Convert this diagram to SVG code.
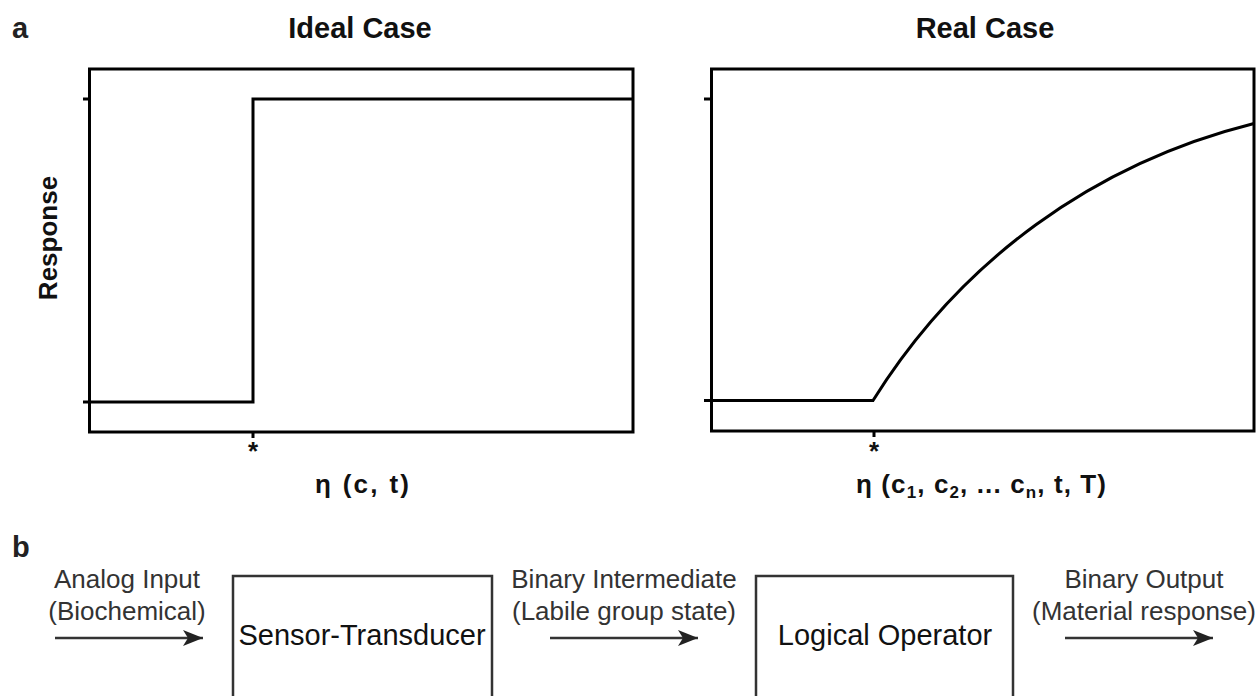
<svg xmlns="http://www.w3.org/2000/svg" width="1259" height="696" viewBox="0 0 1259 696">
<style>
.frame{fill:none;stroke:#000;stroke-width:3}
.trace{fill:none;stroke:#000;stroke-width:3;stroke-linejoin:miter}
.panel{font-family:"Liberation Sans",Arial,sans-serif;font-weight:bold;font-size:29px;fill:#222}
.title{font-family:"Liberation Sans",Arial,sans-serif;font-weight:bold;font-size:29px;fill:#111;text-anchor:middle}
.axis{font-family:"Liberation Sans",Arial,sans-serif;font-weight:bold;font-size:26px;fill:#111;text-anchor:middle}
.ylab{font-family:"Liberation Sans",Arial,sans-serif;font-weight:bold;font-size:26px;fill:#111;text-anchor:middle}
.star{font-family:"Liberation Sans",Arial,sans-serif;font-weight:bold;font-size:26px;fill:#111;text-anchor:middle}
.lbl{font-family:"Liberation Sans",Arial,sans-serif;font-size:26px;fill:#333;text-anchor:middle}
.boxtext{font-family:"Liberation Sans",Arial,sans-serif;font-size:29px;fill:#111;text-anchor:middle}
.box{fill:none;stroke:#333;stroke-width:2.5}
.conn{fill:none;stroke:#333;stroke-width:2.5}
</style>
<defs>
<marker id="arr" markerUnits="userSpaceOnUse" markerWidth="24" markerHeight="20" refX="20" refY="8" orient="auto" viewBox="0 0 24 20">
<path d="M0,0 L20,8 L0,16 L5,8 Z" fill="#222"/>
</marker>
</defs>

<text class="panel" x="12" y="38">a</text>
<text class="panel" x="12" y="557">b</text>

<g id="ideal-plot">
<text class="title" x="360" y="38">Ideal Case</text>
<rect class="frame" x="89.5" y="69" width="543.5" height="363"/>
<line class="frame" x1="83" y1="99" x2="89.5" y2="99"/>
<line class="frame" x1="83" y1="402" x2="89.5" y2="402"/>
<line class="frame" x1="253" y1="432" x2="253" y2="438"/>
<path class="trace" d="M89.5,402 H253 V99 H633"/>
<text class="star" x="253" y="460">*</text>
<text class="axis" x="362" y="493" textLength="94" lengthAdjust="spacing">η (c, t)</text>
</g>

<g id="real-plot">
<text class="title" x="985" y="38">Real Case</text>
<rect class="frame" x="711.5" y="69" width="542.5" height="362"/>
<line class="frame" x1="704" y1="99" x2="711.5" y2="99"/>
<line class="frame" x1="704" y1="400.5" x2="711.5" y2="400.5"/>
<line class="frame" x1="874" y1="431" x2="874" y2="437"/>
<path class="trace" d="M711.5,400.5 H873 C960.5,260.5 1093.8,163.5 1254,123.5"/>
<text class="star" x="874" y="460">*</text>
<text class="axis" x="981" y="493" textLength="250" lengthAdjust="spacing">η (c<tspan font-size="17" dy="5">1</tspan><tspan dy="-5">, c</tspan><tspan font-size="17" dy="5">2</tspan><tspan dy="-5">, ... c</tspan><tspan font-size="17" dy="5">n</tspan><tspan dy="-5">, t, T)</tspan></text>
</g>

<text class="ylab" transform="translate(57,238) rotate(-90)" x="0" y="0">Response</text>

<g id="sensor-transducer">
<rect class="box" x="233" y="576" width="259" height="140"/>
<text class="boxtext" x="362" y="645">Sensor-Transducer</text>
</g>

<g id="logical-operator">
<rect class="box" x="756" y="576" width="257" height="140"/>
<text class="boxtext" x="885" y="645">Logical Operator</text>
</g>

<g id="connectors">
<line class="conn" x1="55" y1="638" x2="203" y2="638" marker-end="url(#arr)"/>
<text class="lbl" x="127" y="588">Analog Input</text>
<text class="lbl" x="127" y="620">(Biochemical)</text>
<line class="conn" x1="550" y1="638" x2="698" y2="638" marker-end="url(#arr)"/>
<text class="lbl" x="624" y="588">Binary Intermediate</text>
<text class="lbl" x="624" y="620">(Labile group state)</text>
<line class="conn" x1="1065" y1="638" x2="1213" y2="638" marker-end="url(#arr)"/>
<text class="lbl" x="1144" y="588">Binary Output</text>
<text class="lbl" x="1144" y="620">(Material response)</text>
</g>
</svg>
